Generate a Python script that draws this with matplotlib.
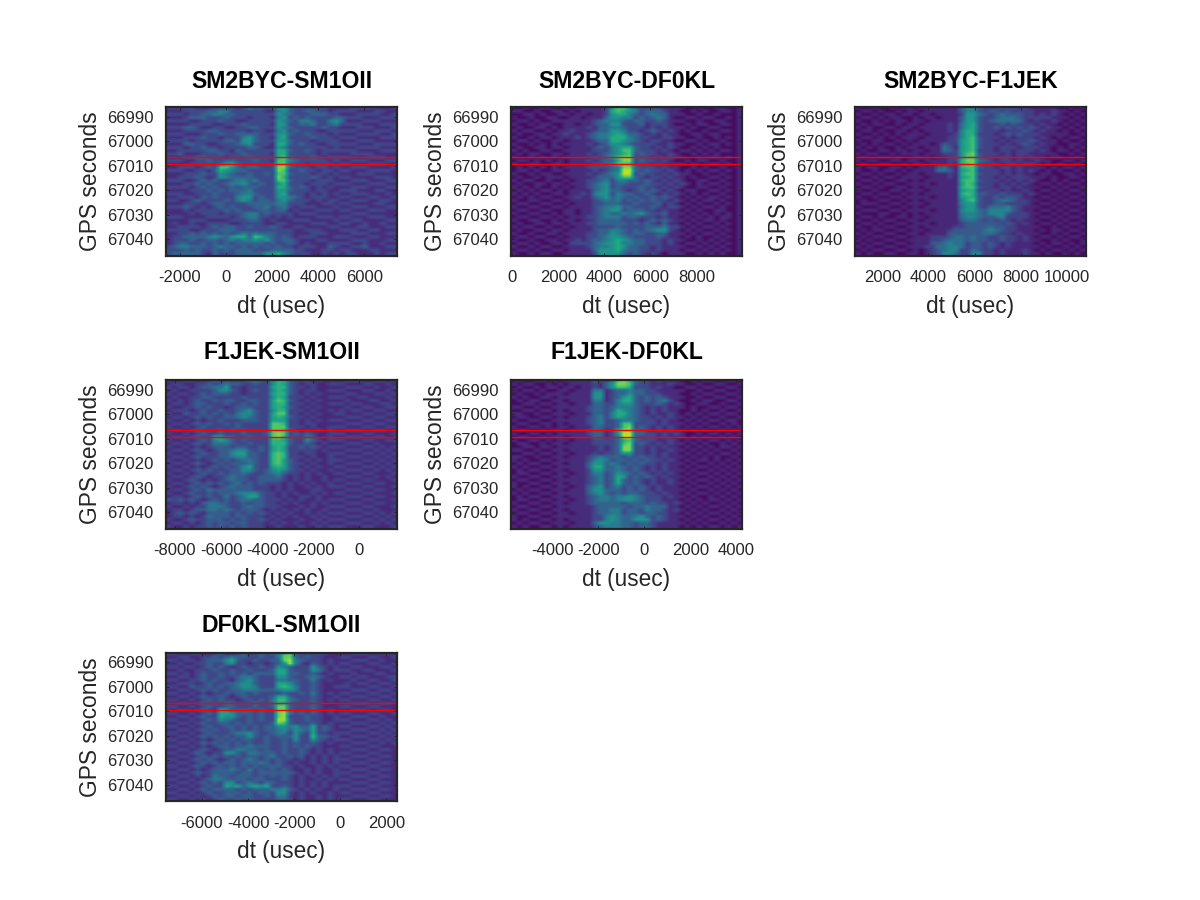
import numpy as np
import matplotlib
matplotlib.use('Agg')
import matplotlib.pyplot as plt

plt.rcParams['font.family'] = ['Liberation Sans', 'DejaVu Sans']
plt.rcParams['axes.unicode_minus'] = False

# heat values, 0-9 = tenths of the colour range, top row first
sm2byc_sm1oii = [
"2222211122 2212433235 5322222211 1122221112",
"1112222334 4222222114 5322332212 2221112211",
"2221223344 3322222225 4322233322 1112222112",
"1112333222 3222122214 5232322223 3222111222",
"2222112223 2211222225 4324432245 3111222111",
"1111222211 2223222215 5223342234 2222111222",
"2223321122 1122332225 4322222322 1112221112",
"1112222332 2222122114 5232221122 2221112221",
"2221112223 2233332225 5322322212 1112222112",
"1112223221 2224532215 6222232221 2221111222",
"2222122222 3325532225 5322212222 1112221111",
"1113322112 2234522216 6323221122 2221112222",
"2221223221 2222332115 4222222212 1112222111",
"1122222332 2132222226 6322321222 2221111222",
"2231112223 2223222216 6222221211 1122221111",
"1112233222 1222322226 7322232122 2211122211",
"2221122322 3322232217 7432222212 1122211122",
"1111222223 5632222227 7322122221 2211122211",
"1122212327 7532332228 8322212212 1122211112",
"2221122136 5433222228 7223221221 2211122221",
"1112223225 4322322327 7322212212 1112221111",
"1122232125 4333322228 6222232121 2211112221",
"2221123232 2344342227 7322212221 1122211122",
"1112232322 3445323225 6222122212 2211122211",
"2222123232 2323332226 6323212121 1122211122",
"1111222323 2333422225 5322212211 2221112211",
"2221122232 2234432225 6222121212 1122211121",
"1122213232 2245523225 5432122211 2211122112",
"2211232222 3245423324 5322212122 1122211221",
"1112221233 2222333334 4222111221 2211112211",
"2223212123 2322233423 4212221112 1122211122",
"1112122222 3232223323 3121112221 2211122211",
"1111212221 2223442322 2212221111 1122211111",
"2221111222 2123442212 1211112221 2211122211",
"1111222111 1222332121 1122211112 1122111122",
"1211211222 2112222112 2111122211 2211211211",
"1122221232 3322322232 1122111122 1112211122",
"2222112223 3322222222 2211222111 2221122111",
"1122323232 3234343332 2211122211 1122211122",
"1223333454 3566376432 3212221112 2211122111",
"1222322332 3434454532 3321112211 1122211122",
"1233223232 3233333232 2321211122 2211211211",
"2344333234 3323232323 2212221132 1122311122",
"2223232232 3233322233 3322111221 2211122111",
"2333332132 2233333556 4322211212 1221112122",
]

sm2byc_df0kl = [
"0010011001 0111112577 5322221111 0010011001",
"1100100110 1011112676 5423332110 0101001101",
"0011010011 0110112566 4323433111 0010010001",
"1001001100 1101113554 4232343100 1101100101",
"0110100111 1111234443 2332232111 0010011001",
"1001011001 1011233552 2231222100 1011001101",
"0100110101 1112133443 2221212111 0100110001",
"1011001011 2111233554 2212321210 1001001101",
"0100110112 1112344565 3321212110 0110110001",
"1001011011 1212344666 4322112211 0010010101",
"0110100110 1111233665 4321221100 1101001001",
"1001010101 1112123554 3222211211 0010110101",
"0100110110 1111232456 6322121210 0101010001",
"1010011001 1111222457 7322212101 1010101101",
"0101100110 1112123456 7232211210 0101010001",
"1001010101 1111223578 8222121211 0010110101",
"0110101010 1112123368 8232212100 1011001001",
"1001100110 1111223477 7222121111 0100110101",
"0101010101 1112222348 8322212110 0101001001",
"0110100110 1111212349 9323221210 1010110101",
"1001011001 1112123459 9232212121 1001001001",
"0100101110 1111233357 7321221211 0100110101",
"1011001001 0112234244 3323212121 0011001001",
"0100110110 1112345233 2223221212 1010110101",
"1010100101 0112345232 2232212121 0011001001",
"0101011010 1111345332 1232321210 1100110101",
"1010100110 1121455243 3223212121 0101001001",
"0101011001 1211345343 2322323210 1010110101",
"1001100110 1111234342 3232322121 0101101001",
"0110011001 0111223332 2322231210 1010010101",
"1001100110 1111234453 3222321221 0101101001",
"0110011001 1011234552 3332212110 1010011001",
"1001100101 1011234334 3453223111 0101010101",
"0110011010 1112234442 3322212110 1010101101",
"1001100101 1011233332 2212323211 0101101001",
"0100110110 1112233333 2323213110 1010010101",
"1011001001 0111222232 2223334221 0101101001",
"0100110110 1111233443 2323455210 1010010101",
"1001001101 1112233543 2332233111 0101101001",
"0110110010 1112234554 3222232110 1010010101",
"1001001101 1212334565 4332221211 0010101001",
"0110100110 2222345564 4332221210 1101010101",
"1001011001 1112344565 3322121111 0010101001",
"0110100110 1111355564 3322121110 1101010101",
"1001011001 1111255553 2321210111 0010101001",
]

sm2byc_f1jek = [
"1001001011 0111111135 5322232322 1111100101",
"0110100101 1011111135 5323323222 2111211010",
"1001011011 0110111126 6432343332 2121210101",
"0110101100 1011011136 6322344432 2222111010",
"1001010110 1101111136 6323444442 1211210101",
"0101100101 1011112146 7322232322 2121101010",
"1010011011 0111112146 7322323232 3212110101",
"0110100110 1011112157 7322212223 2121101010",
"1001010101 1101111257 7222123232 2211111001",
"0110101011 1011112257 8322212122 2121010110",
"1001100101 0111112267 8322121222 3211101001",
"0101011010 1110132267 8322212123 2121100110",
"1010100101 1011143167 8322122212 2211010101",
"0100110110 1101143267 8222122122 2121011010",
"1011001011 1011122268 9322212122 1111100101",
"0100110100 1110112268 8322122121 2110110010",
"1011001101 1011112279 9432122121 1211001101",
"0100110010 1101112178 9322212212 2101010010",
"1011001101 0111342178 8322122121 1110101101",
"1001011010 1111443167 8222212121 2101010010",
"0110100101 1011112178 8322212121 1011001101",
"1001011011 1101112167 8222121222 1110100110",
"0110100110 1011111178 8322212121 2100101001",
"1001011001 1110111168 7222121212 1011010110",
"0110100110 1011111178 8322122121 1100101001",
"1001001101 1101111167 7222212112 1011010110",
"0110110010 1011111178 7332232221 2100101001",
"1001001101 1110111167 7322323321 1011010110",
"0100110010 1011111157 8322344322 1100101001",
"0111001101 1101111156 6322332222 1011010110",
"1000110010 1011111146 6324445321 1100101001",
"0111001101 1110111156 6435555321 1011010110",
"1000110010 1011111145 5435553222 1100101001",
"0110100110 1101111145 5433452222 1011010110",
"1001011001 1011111134 4323232121 1100101001",
"0110100110 1110111123 3333323212 1011010110",
"1001011001 1011111223 3334332211 1100101001",
"0101100110 1101112333 3345432211 1010110110",
"1010011001 1011113333 3344322121 1100101001",
"0101100110 1112223443 4332232212 1011010110",
"1010011001 1112234443 4332232212 1100101001",
"0101100110 1113345442 3323212111 1010110101",
"1010011001 1122445542 3323212111 1101001010",
"0101100110 1012345522 4322121112 1010110101",
"1010011001 1012355422 5522121112 1101001010",
]

f1jek_sm1oii = [
"2211221123 2222234325 7732221211 1122211221",
"1122112232 3433223225 7632122112 2211122112",
"2212212334 4622122226 7732212111 1122211211",
"1121122223 5532123225 7632122112 2211122112",
"2212212323 3322122226 7732121211 1122111221",
"1121122332 2222322225 7622212112 2211221112",
"2212123223 2332233226 8732121211 1121112211",
"1122123322 2322323226 7722212112 2212211122",
"2211223232 2123332226 7632121211 1121122112",
"1122212322 3223453225 7722212112 1212211221",
"2211322323 2324553226 8822121211 2211122112",
"1122123232 2334543226 7632212111 1122211221",
"2211212122 3222333226 6622121212 2211122112",
"1122123232 2323222228 8722122111 1122211221",
"2211212322 2223222228 8822212112 2211122112",
"1122123222 3232322228 8732121212 1122211221",
"2211212322 3222322238 9823232112 2211122111",
"1122123226 6332232228 9732243112 1122211221",
"2211212325 6532322227 7632253212 2211122112",
"1122123224 4432232227 7732232121 1122211211",
"2211212123 3323322326 7622323212 2211122121",
"1122123212 3345532326 7622222121 1122211212",
"2211212322 3356633227 8722122112 2211122121",
"1122123222 3345533227 8722212112 1122211212",
"2211212123 2323443227 8632121212 2211122121",
"1122123212 3233343227 8632212112 1122211212",
"2211212123 2323563226 7632121211 2211122121",
"1122123232 2233553235 6532212112 1122211212",
"2211212322 3233432234 5322121211 2211122111",
"1122123212 2343322333 4212121121 1122211212",
"2211232121 2343322333 3212121121 2211122111",
"1122123232 3234232322 2121212112 1122211221",
"2211232321 2343332221 2121121212 2211122111",
"1122123243 3333332221 2121112211 1122211221",
"2211232232 3334555322 1212112121 2211122111",
"1122123232 2423466322 1211221211 1122211221",
"2323232123 2323443322 2121211212 2211122111",
"1122121344 3322323322 1212112121 1122211221",
"2211212244 4322343322 2111212112 2211122111",
"1122123344 3432333212 1212121121 1122211211",
"2123232133 3323232321 2121121212 2211122121",
"1122121243 3323322212 1212112121 1122211212",
"2211232233 3232322321 2111211212 2211122121",
"1122121232 3323322212 1212112121 1122211212",
"2211212232 3232322211 2111211212 2211122111",
]

f1jek_df0kl = [
"1001001101 0111113224 7863221211 1001011001",
"0110110010 1011112135 8873221112 1100100110",
"1001001011 0110112135 7762221211 0011011001",
"0110110100 1101114412 3343322111 1100100110",
"1001001011 1011115512 3353322211 1001011001",
"0110100110 1111115512 3563232321 1100100110",
"1001011001 1011114412 4663232342 1001011001",
"0100110110 1101113322 4553222321 2100110010",
"1011001001 1111123323 4443212121 1101001101",
"0100110110 1011123323 6543212121 1001010010",
"1011001001 1101113324 6643212112 1010101101",
"0101100110 1011123424 6543221212 1101010010",
"1010011001 1111123422 3443222121 1010101101",
"1001100110 1011123422 3772222121 1101010010",
"0110011010 1101113322 3782321212 1010101101",
"1001100101 1011123312 6883321212 1101010010",
"0110011010 1111123312 5993322121 2100101101",
"1001100101 1011113312 4993222121 1101010010",
"0110011010 1101112222 3673222112 1010101101",
"1001100101 1011112222 3782321212 1101010010",
"0100110110 1111111212 3882212121 1010101011",
"1011001001 1011111212 3882212112 1101010100",
"0100110110 1101112122 3552212121 1010101011",
"1011001001 1011123433 3232322121 1101010100",
"0110100110 1111124542 3323232212 1010110101",
"1001011001 1011135534 3232322121 1101001010",
"0110100110 1111136633 4323212121 1010110101",
"1001011001 1011125533 4323212121 1101001010",
"0101100110 1101124423 5432321212 1010110101",
"1010011001 1011123423 6523232121 1101001010",
"0101100110 1111123423 6323212112 1010110101",
"1010011001 1011123423 6323212112 1101001010",
"0110100110 1101134523 4232321211 1010110101",
"1001011001 1011135533 3232321211 1101001010",
"0110100110 1111134532 3233222121 1010110101",
"1001011001 1011123443 4454322212 1101001010",
"0101100110 1101123443 4554322211 1010101101",
"1010011001 1011123333 3233323221 2101010010",
"0101100110 1111112333 3323343331 1010101101",
"1010011001 1011112334 4233243321 2101010010",
"0101100110 1101112334 4233233221 1010101101",
"1010011001 1111112245 4334532321 1101010010",
"0110100110 1011112245 4335552321 1010101101",
"1001011001 1101113554 4332332111 1101010010",
"0110100110 1011112344 4332332111 1010101101",
]

df0kl_sm1oii = [
"2211221123 1123223234 7832222211 1122211221",
"1122112232 3433223224 8832322111 2211122112",
"2212212333 5632232233 8943222121 1122211211",
"1121122322 4522122123 5942132121 2211122112",
"2212212323 2123223225 4322253212 1122111221",
"1121122232 2322322236 6322254212 2211221112",
"2212123223 2323233336 6332232121 1121112211",
"1122123223 2234432225 5322343211 2212211122",
"2211223232 2134532224 4332242121 1121122112",
"1122212322 3345532226 6532232111 1212211221",
"2211322323 2345542226 7642232112 2211122112",
"1122123232 2334443334 5542232111 1122211221",
"2211212122 3233232222 3223242121 2211122112",
"1122123223 2123222236 6322232112 1122211221",
"2211212323 2212323247 7432232121 2211122112",
"1122123222 3322232236 6322232111 1122211221",
"2211212322 3322232238 8322232111 2211122111",
"1122123216 5333323228 8322232121 1122211221",
"2211212326 6533323228 9423232121 2211122112",
"1122123226 5532323228 9222322112 1122211211",
"2211212325 4322323229 9322322112 2211122121",
"1122123223 3232322238 7322232121 1122211212",
"2211212322 3323232335 5453362321 2211122121",
"1122123232 2323232334 5354362321 1122211212",
"2211212322 2344532234 4253262212 2211122121",
"1122123232 3233532323 3352273322 1122211212",
"2211212123 2323322322 3252253212 2211122121",
"1122123232 3232322322 3232232121 1122211212",
"2211212123 3233433322 3232322111 2211122111",
"1122123212 3344332322 3223212121 1122211221",
"2211232122 5532443332 3223212121 2211122111",
"1122123232 3232332342 2323121212 1122211221",
"2211232321 2323432323 2212121212 2211122111",
"1122123232 3323334323 2121121212 1122211221",
"2211232123 2323232333 2212112121 2211122111",
"1122121233 3432423232 3211212112 1122211221",
"2211232233 3323323333 3321212112 2211122111",
"1122121243 3233323232 3212121212 1122211221",
"2211212344 3333233222 3212112121 2211122111",
"1122123232 5523432432 2212121211 1122211221",
"2211212322 6563565622 3212121212 2211122111",
"1122123233 3323233344 5321212112 1122211221",
"2211212322 3332323325 5212121121 2211122111",
"1122121232 3323322324 4212112121 1122211221",
"2211212123 2232322223 3212112121 2211122111",
]

panel_rows = [sm2byc_sm1oii, sm2byc_df0kl, sm2byc_f1jek, f1jek_sm1oii, f1jek_df0kl, df0kl_sm1oii]
titles = ['SM2BYC-SM1OII', 'SM2BYC-DF0KL', 'SM2BYC-F1JEK', 'F1JEK-SM1OII', 'F1JEK-DF0KL', 'DF0KL-SM1OII']
x_limits = [(-2600, 7420), (-50, 9970), (815, 10835), (-8390, 1630), (-5780, 4240), (-7560, 2460)]
x_ticks = [
    [-2000, 0, 2000, 4000, 6000],
    [0, 2000, 4000, 6000, 8000],
    [2000, 4000, 6000, 8000, 10000],
    [-8000, -6000, -4000, -2000, 0],
    [-4000, -2000, 0, 2000, 4000],
    [-6000, -4000, -2000, 0, 2000],
]
y_limits = (67046.7, 66986)
y_ticks = [66990, 67000, 67010, 67020, 67030, 67040]
red_lines = [67006.5, 67009.4]

# columns the typed rows sit too far right, and colour top per panel
col_shift = [0, 0, 0, -1, -2, 0]
color_top = [1, 1, 1.15, 1.1, 1, 1.05]

# axes boxes in pixels: left, top
boxes = [(166, 107), (511, 107), (855, 107), (166, 380), (511, 380), (166, 652.5)]
box_w, box_h = 231, 148.5
W, H = 1200, 900

fig = plt.figure(figsize=(12, 9), dpi=100)

for i, (rows, title, xlim, xt, (left, top)) in enumerate(zip(panel_rows, titles, x_limits, x_ticks, boxes)):
    ax = fig.add_axes([left / W, 1 - (top + box_h) / H, box_w / W, box_h / H])
    grid = np.array([[int(c) / 10 for c in r.replace(' ', '')] for r in rows])
    grid = np.roll(grid, col_shift[i], axis=1)
    ax.imshow(grid, cmap='viridis', vmin=-0.03, vmax=color_top[i], aspect='auto', interpolation='bilinear',
              extent=[xlim[0], xlim[1], y_limits[0], y_limits[1]])
    for y in red_lines:
        ax.axhline(y, color='red', lw=1)
    ax.set_xlim(xlim)
    ax.set_ylim(y_limits)
    ax.set_xticks(xt)
    ax.set_yticks(y_ticks)
    ax.ticklabel_format(useOffset=False, style='plain')
    ax.tick_params(direction='in', top=True, right=True, length=2, width=0.7, color='#262626',
                   labelcolor='#262626', labelsize=12)
    ax.tick_params(axis='x', pad=10.5)
    ax.tick_params(axis='y', pad=9)
    for s in ax.spines.values():
        s.set_linewidth(1.6)
        s.set_color('#262626')
    ax.set_title(title, fontsize=16.6, fontweight='bold', color='black', pad=13.5 if i < 3 else 14.8)
    ax.set_xlabel('dt (usec)', fontsize=16.3, color='#262626')
    ax.set_ylabel('GPS seconds', fontsize=16.4, color='#262626')
    ax.xaxis.set_label_coords(0.5, -0.265)
    ax.yaxis.set_label_coords(-64 / box_w, 0.5)

fig.savefig('out.png', dpi=100)
